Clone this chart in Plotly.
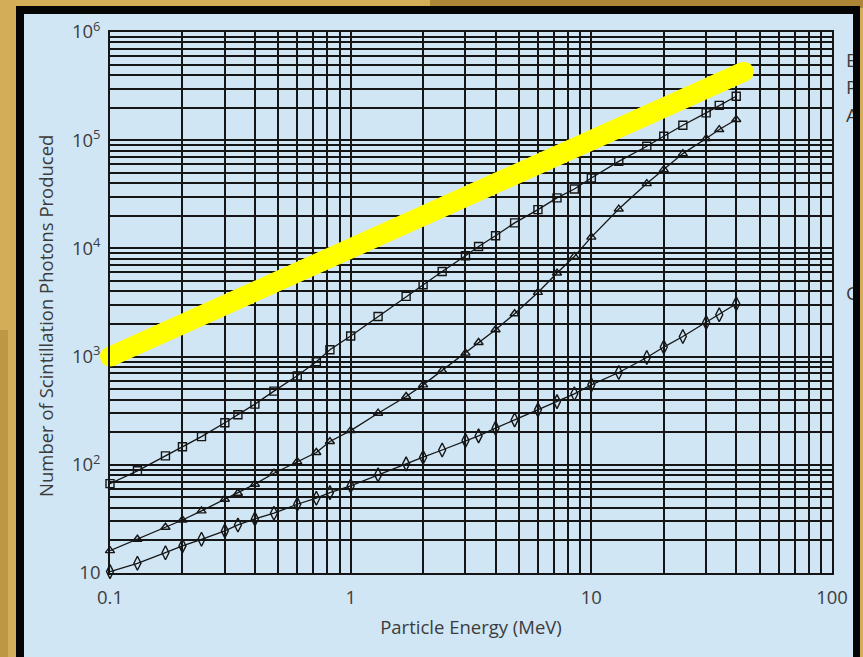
import plotly.graph_objects as go

# Particle energy (MeV) at which each curve is sampled
energy = [0.1, 0.13, 0.17, 0.2, 0.24, 0.3, 0.34, 0.4, 0.48, 0.6, 0.72, 0.82,
          1.0, 1.3, 1.7, 2.0, 2.4, 3.0, 3.4, 4.0, 4.8, 6.0, 7.2, 8.5,
          10, 13, 17, 20, 24, 30, 34, 40]

# Scintillation photons produced (squares)
photons_square = [67, 88, 121, 147, 182, 245, 290, 364, 480, 664, 895, 1156,
                  1549, 2350, 3600, 4620, 6120, 8550, 10420, 13100, 17200, 22800, 29300, 35400,
                  44800, 63800, 87900, 108700, 137400, 179000, 210000, 254600]

# Scintillation photons produced (triangles)
photons_triangle = [16.1, 20.5, 26.5, 30.9, 37.5, 48.1, 54.6, 66.2, 83.6, 107, 130, 164,
                    207, 300, 428, 548, 743, 1076, 1350, 1770, 2490, 3920, 5920, 8430,
                    12700, 23100, 39700, 53500, 75200, 103500, 125400, 155200]

# Scintillation photons produced (diamonds)
photons_diamond = [10.3, 12.3, 15.4, 17.8, 20.5, 24.5, 27.8, 31.6, 35.7, 43.2, 49.1, 55.3,
                   63.8, 80.7, 102, 117.5, 137, 167.5, 185, 218, 260, 322, 384, 453,
                   548, 713, 982, 1225, 1535, 2066, 2436, 3080]

# Reference trend line (photons = 1e4 x energy)
trend_energy = [0.1, 43]
trend_photons = [1000, 430000]

x_tickvals = [0.1, 1, 10, 100]
x_ticktext = ["0.1", "1", "10", "100"]
y_tickvals = [10, 100, 1000, 10000, 100000, 1000000]
y_ticktext = ["10", "10<sup>2</sup>", "10<sup>3</sup>", "10<sup>4</sup>",
              "10<sup>5</sup>", "10<sup>6</sup>"]

W, H = 863, 657
ML, MR, MT, MB = 110, 31, 32, 84
PW, PH = W - ML - MR, H - MT - MB


def px_x(p):
    return (p - ML) / PW


def px_y(p):
    return (H - MB - p) / PH


def minor_vals(lo_exp, hi_exp):
    vals = []
    for e in range(lo_exp, hi_exp):
        for d in range(2, 10):
            vals.append(d * 10 ** e)
    return vals


FONT = "Open Sans"
INK = "#3c3c3c"
LINE = "#151515"
BLUE = "#D0E6F4"

fig = go.Figure()

fig.add_trace(go.Scatter(
    x=trend_energy, y=trend_photons, mode="lines+markers",
    line=dict(color="#FFFF00", width=20),
    marker=dict(symbol="circle", size=20, color="#FFFF00", line=dict(width=0)),
    cliponaxis=False, showlegend=False, hoverinfo="skip"))

series = [
    (photons_square, "square-open", 8),
    (photons_triangle, "triangle-up-open", 8),
    (photons_diamond, "diamond-tall-open", 10),
]
for ys, sym, size in series:
    fig.add_trace(go.Scatter(
        x=energy, y=ys, mode="lines+markers",
        line=dict(color=LINE, width=1.3),
        marker=dict(symbol=sym, size=size, color=LINE, line=dict(width=1.4, color=LINE)),
        cliponaxis=False, showlegend=False))

shapes = [
    # golden frame shading
    dict(type="rect", xref="paper", yref="paper", x0=px_x(430), x1=px_x(W + 2),
         y0=px_y(-2), y1=px_y(8), fillcolor="#9C7628", line_width=0, layer="below", opacity=0.7),
    dict(type="rect", xref="paper", yref="paper", x0=px_x(-2), x1=px_x(8),
         y0=px_y(H + 2), y1=px_y(330), fillcolor="#B48E3C", line_width=0, layer="below", opacity=0.7),
    # black-bordered light blue panel
    dict(type="rect", xref="paper", yref="paper", x0=px_x(16), x1=px_x(860),
         y0=px_y(H + 10), y1=px_y(6), fillcolor="#050505", line_width=0, layer="below"),
    dict(type="rect", xref="paper", yref="paper", x0=px_x(24), x1=px_x(853),
         y0=px_y(H + 10), y1=px_y(14), fillcolor=BLUE, line_width=0, layer="below"),
]

annotations = []
# legend text running off the right edge of the panel
for letter, ypx in [("E", 60), ("P", 87), ("A", 115), ("C", 293)]:
    annotations.append(dict(
        text=letter, xref="paper", yref="paper", x=px_x(845), y=px_y(ypx),
        xanchor="left", yanchor="middle", align="left", width=7, borderpad=0,
        showarrow=False, font=dict(family=FONT, size=19, color=INK)))

# vertical axis title
annotations.append(dict(
    text="Number of Scintillation Photons Produced", xref="paper", yref="paper",
    x=px_x(45), y=px_y(316), xanchor="center", yanchor="middle", textangle=-90,
    showarrow=False, font=dict(family=FONT, size=18.5, color=INK)))

axis_common = dict(
    type="log", showline=True, mirror=True, linecolor=LINE, linewidth=1.6,
    showgrid=True, gridcolor=LINE, gridwidth=1.6, ticks="", zeroline=False,
    tickfont=dict(family=FONT, size=18.5, color=INK),
)

fig.update_layout(
    width=W, height=H, autosize=False,
    margin=dict(l=ML, r=MR, t=MT, b=MB),
    paper_bgcolor="#D3AD58", plot_bgcolor=BLUE,
    shapes=shapes, annotations=annotations,
    xaxis=dict(
        **axis_common, range=[-1, 2],
        tickmode="array", tickvals=x_tickvals, ticktext=x_ticktext,
        ticklabelstandoff=7,
        minor=dict(tickmode="array", tickvals=minor_vals(-1, 2), showgrid=True,
                   gridcolor=LINE, gridwidth=1.5, ticks=""),
        title=dict(text="Particle Energy (MeV)", standoff=13,
                   font=dict(family=FONT, size=18.5, color=INK)),
    ),
    yaxis=dict(
        **axis_common, range=[1, 6],
        tickmode="array", tickvals=y_tickvals, ticktext=y_ticktext,
        ticklabelstandoff=4,
        minor=dict(tickmode="array", tickvals=minor_vals(1, 6), showgrid=True,
                   gridcolor=LINE, gridwidth=1.5, ticks=""),
    ),
)

fig.write_html("out.html")
